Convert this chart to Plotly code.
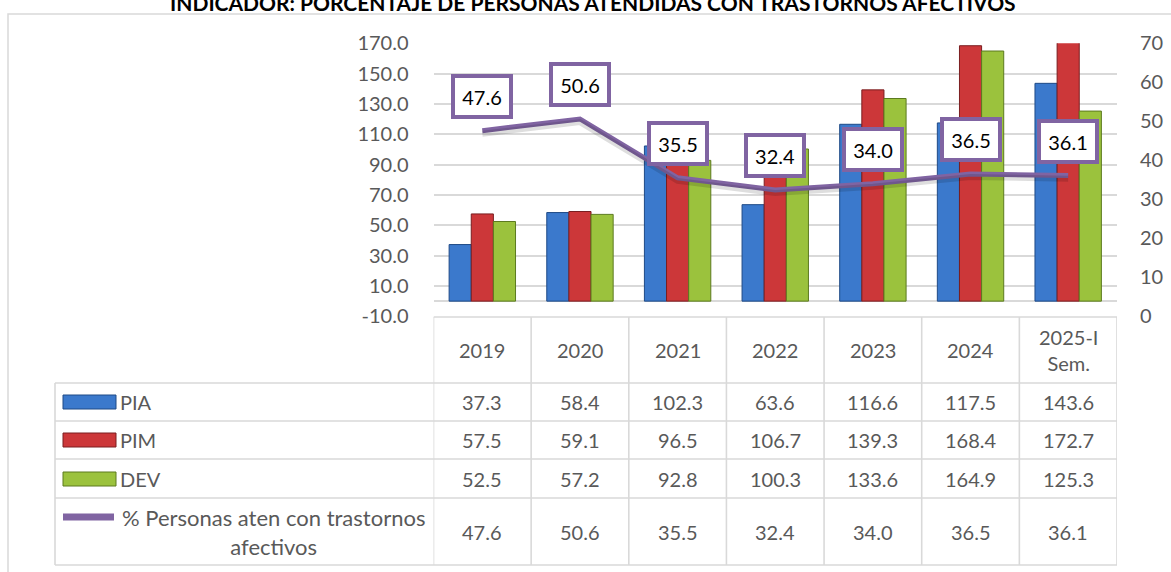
import plotly.graph_objects as go

# ---------------- data ----------------
categories = ["2019", "2020", "2021", "2022", "2023", "2024", "2025-I Sem."]
category_labels = ["2019", "2020", "2021", "2022", "2023", "2024", "2025-I<br>Sem."]
pia = [37.3, 58.4, 102.3, 63.6, 116.6, 117.5, 143.6]
pim = [57.5, 59.1, 96.5, 106.7, 139.3, 168.4, 172.7]
dev = [52.5, 57.2, 92.8, 100.3, 133.6, 164.9, 125.3]
pct = [47.6, 50.6, 35.5, 32.4, 34.0, 36.5, 36.1]
series_names = ["PIA", "PIM", "DEV"]
line_name = "% Personas aten con trastornos<br>afectivos"
title_text = "INDICADOR: PORCENTAJE DE PERSONAS ATENDIDAS CON TRASTORNOS AFECTIVOS"
left_ticks = [-10, 10, 30, 50, 70, 90, 110, 130, 150, 170]
right_ticks = [0, 10, 20, 30, 40, 50, 60, 70]

# ---------------- style ----------------
W, H = 1171, 572
FONT = "Lato"
TXT = "#595959"
GRID = "#D9D9D9"
PURPLE = "#8064A2"
bar_fill = ["#3B79CC", "#CC3739", "#9BC23D"]
bar_line = ["#1F4A86", "#7A1E20", "#5C7A1F"]
FS = 20


def px(x):
    return x / W


def py(y):
    return 1 - y / H


fig = go.Figure()

for name, vals, fc, lc in zip(series_names, [pia, pim, dev], bar_fill, bar_line):
    fig.add_trace(go.Bar(
        x=categories, y=vals, name=name,
        marker=dict(color=fc, line=dict(color=lc, width=1)),
        yaxis="y", showlegend=False,
    ))

# soft shadow under the line (same data on a helper axis shifted slightly)
fig.add_trace(go.Scatter(
    x=categories, y=pct, mode="lines", hoverinfo="skip",
    line=dict(color="rgba(0,0,0,0.13)", width=6),
    yaxis="y3", showlegend=False,
))
fig.add_trace(go.Scatter(
    x=categories, y=pct, name=line_name, mode="lines",
    line=dict(color=PURPLE, width=5),
    yaxis="y2", showlegend=False,
))

annotations = []
# line labels (x given as category index on the category axis)
for i, v in enumerate(pct):
    annotations.append(dict(
        x=i, y=v, xref="x", yref="y2", showarrow=False, yshift=34,
        text=f"{v:.1f}", font=dict(family=FONT, size=FS, color="black"),
        bgcolor="white", bordercolor=PURPLE, borderwidth=4, borderpad=5,
        width=44, height=27,
    ))

# title (clipped at the top edge, as in the original)
annotations.append(dict(
    x=px(593), y=py(0), xref="paper", yref="paper", showarrow=False,
    text=f"<b>{title_text}</b>", font=dict(family=FONT, size=21, color="black"),
    xanchor="center", yanchor="middle", yshift=-2,
))

# table layout (pixel positions)
row_edges = [317, 383, 421, 459, 498, 565]
row_centers = [350, 402, 440, 479, 532]

for i, lab in enumerate(category_labels):
    annotations.append(dict(
        x=i, y=py(row_centers[0]), xref="x", yref="paper", showarrow=False,
        text=lab, font=dict(family=FONT, size=FS, color=TXT),
        xanchor="center", yanchor="middle",
    ))

for r, vals in enumerate([pia, pim, dev, pct]):
    for i, v in enumerate(vals):
        annotations.append(dict(
            x=i, y=py(row_centers[r + 1]), xref="x", yref="paper", showarrow=False,
            text=f"{v:.1f}", font=dict(family=FONT, size=FS, color=TXT),
            xanchor="center", yanchor="middle",
        ))

for r, name in enumerate(series_names):
    annotations.append(dict(
        x=px(118), y=py(row_centers[r + 1]), xref="paper", yref="paper",
        showarrow=False, text=name, font=dict(family=FONT, size=FS, color=TXT),
        xanchor="left", yanchor="middle",
    ))
annotations.append(dict(
    x=px(273), y=py(row_centers[4]), xref="paper", yref="paper",
    showarrow=False, text=line_name, font=dict(family=FONT, size=22, color=TXT),
    xanchor="center", yanchor="middle", align="center",
))

shapes = []
LW = 1.6
# outer chart border
shapes.append(dict(type="rect", xref="paper", yref="paper",
                   x0=px(8), x1=px(W + 20), y0=py(14), y1=py(H + 20),
                   line=dict(color=GRID, width=1.5), fillcolor="rgba(0,0,0,0)"))
# table horizontal lines
shapes.append(dict(type="line", xref="x", yref="paper", x0=-0.5, x1=len(categories) - 0.5,
                   y0=py(row_edges[0]), y1=py(row_edges[0]), line=dict(color=GRID, width=LW)))
for ye in row_edges[1:]:
    shapes.append(dict(type="line", xref="paper", yref="paper", x0=px(55), x1=px(1117),
                       y0=py(ye), y1=py(ye), line=dict(color=GRID, width=LW)))
# table vertical lines
for i in range(len(categories) + 1):
    shapes.append(dict(type="line", xref="x", yref="paper", x0=i - 0.5, x1=i - 0.5,
                       y0=py(row_edges[0]), y1=py(row_edges[-1]), line=dict(color=GRID, width=LW)))
shapes.append(dict(type="line", xref="paper", yref="paper", x0=px(55), x1=px(55),
                   y0=py(row_edges[1]), y1=py(row_edges[-1]), line=dict(color=GRID, width=LW)))
# legend keys
for r, (fc, lc) in enumerate(zip(bar_fill, bar_line)):
    cy = row_centers[r + 1]
    shapes.append(dict(type="rect", xref="paper", yref="paper",
                       x0=px(63), x1=px(116), y0=py(cy + 7), y1=py(cy - 7),
                       fillcolor=fc, line=dict(color=lc, width=1)))
shapes.append(dict(type="line", xref="paper", yref="paper",
                   x0=px(63), x1=px(114), y0=py(517), y1=py(517),
                   line=dict(color=PURPLE, width=7)))

fig.update_layout(
    width=W, height=H,
    margin=dict(l=0, r=0, t=0, b=0, autoexpand=False),
    paper_bgcolor="white", plot_bgcolor="white",
    barmode="group", bargap=0.32, bargroupgap=0,
    font=dict(family=FONT, size=FS, color=TXT),
    xaxis=dict(type="category", domain=[px(433.5), px(1117)], range=[-0.5, len(categories) - 0.5],
               showticklabels=False, showgrid=False,
               zeroline=False, showline=False, ticks=""),
    yaxis=dict(domain=[py(316.3), py(43.3)], range=[-10, 170], tickvals=left_ticks,
               ticktext=[f"{v:.1f}" for v in left_ticks],
               showgrid=True, gridcolor=GRID, gridwidth=1.5,
               zeroline=True, zerolinecolor=GRID, zerolinewidth=1.5,
               ticks="outside", ticklen=20, tickcolor="rgba(0,0,0,0)",
               tickfont=dict(family=FONT, size=FS, color=TXT), showline=False),
    yaxis2=dict(overlaying="y", side="right", range=[0, 70], tickvals=right_ticks,
                showgrid=False, zeroline=False, ticks="outside", ticklen=18,
                tickcolor="rgba(0,0,0,0)", tickfont=dict(family=FONT, size=FS, color=TXT),
                anchor="x"),
    # helper axis (same scale as y2, shifted so the shadow sits a few px lower)
    yaxis3=dict(overlaying="y", range=[0.8, 70.8], visible=False, anchor="x"),
    annotations=annotations,
    shapes=shapes,
    showlegend=False,
)

fig.write_html("out.html")
